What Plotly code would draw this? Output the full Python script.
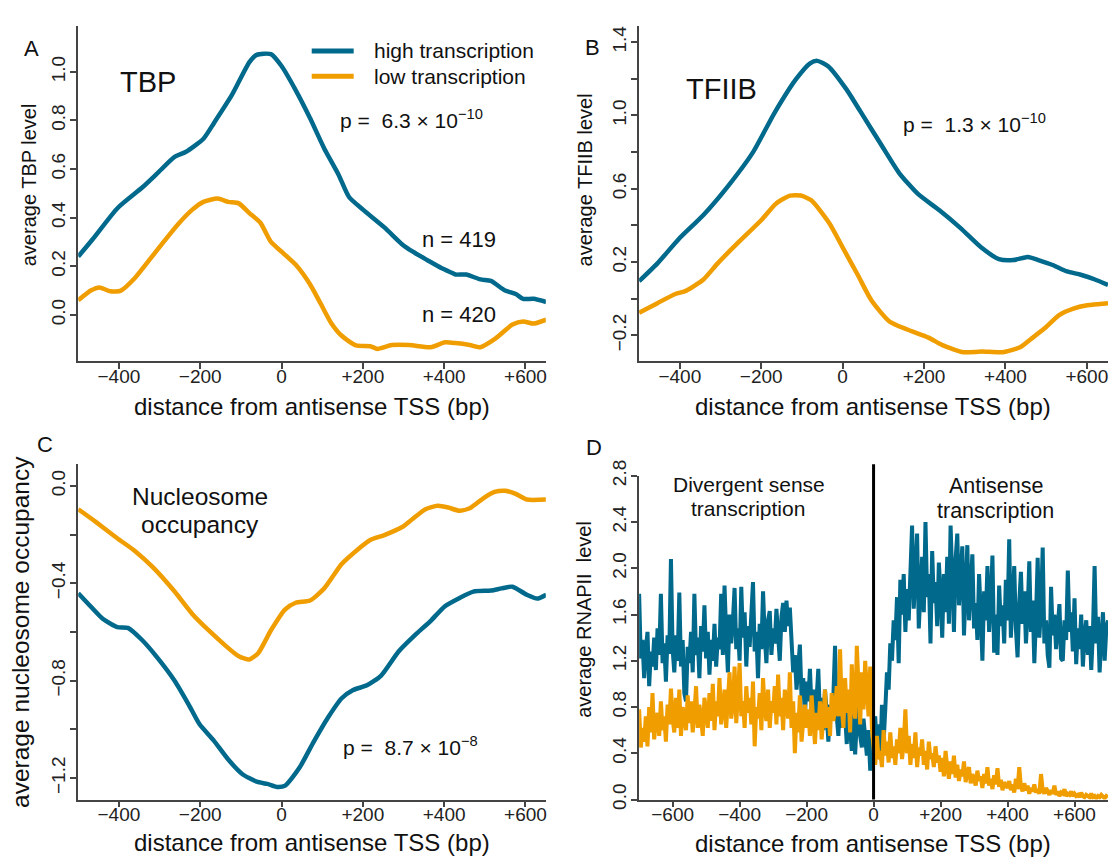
import plotly.graph_objects as go

# ---------------- data ----------------
# Panel A: TBP
a_high_x = [-500, -465, -403, -342, -307, -263, -236, -192, -166, -122, -79, -61, -26, 0, 35, 70, 105, 140, 166, 201, 253, 297, 323, 358, 393, 419, 428, 454, 489, 515, 550, 576, 594, 620, 651]
a_high_y = [0.24, 0.31, 0.44, 0.525, 0.58, 0.65, 0.67, 0.725, 0.79, 0.905, 1.04, 1.07, 1.073, 1.024, 0.924, 0.81, 0.685, 0.578, 0.485, 0.432, 0.36, 0.29, 0.26, 0.226, 0.193, 0.173, 0.166, 0.166, 0.146, 0.14, 0.10, 0.086, 0.066, 0.066, 0.053]
a_low_x = [-500, -469, -448, -421, -395, -360, -325, -290, -255, -220, -192, -157, -131, -105, -79, -52, -26, 0, 35, 70, 96, 122, 148, 183, 218, 236, 271, 314, 367, 402, 428, 463, 489, 524, 568, 594, 620, 651]
a_low_y = [0.06, 0.10, 0.113, 0.097, 0.10, 0.153, 0.226, 0.30, 0.372, 0.432, 0.465, 0.479, 0.465, 0.459, 0.419, 0.379, 0.30, 0.26, 0.206, 0.126, 0.047, -0.033, -0.086, -0.126, -0.129, -0.14, -0.124, -0.124, -0.133, -0.113, -0.116, -0.124, -0.133, -0.10, -0.04, -0.027, -0.036, -0.02]

# Panel B: TFIIB
b_high_x = [-500, -455, -403, -342, -281, -220, -168, -115, -80, -62, -35, 9, 44, 96, 139, 185, 237, 289, 340, 384, 419, 455, 481, 516, 551, 585, 620, 652]
b_high_y = [0.096, 0.193, 0.325, 0.457, 0.616, 0.80, 1.012, 1.197, 1.285, 1.298, 1.268, 1.144, 1.021, 0.836, 0.686, 0.572, 0.484, 0.387, 0.281, 0.216, 0.211, 0.228, 0.211, 0.184, 0.149, 0.131, 0.105, 0.075]
b_low_x = [-500, -455, -411, -385, -342, -307, -260, -199, -164, -129, -103, -77, -33, 2, 37, 71, 115, 159, 211, 245, 297, 341, 393, 436, 462, 497, 532, 567, 601, 652]
b_low_y = [-0.077, -0.024, 0.026, 0.043, 0.105, 0.193, 0.299, 0.431, 0.519, 0.563, 0.563, 0.537, 0.413, 0.272, 0.131, -0.01, -0.124, -0.168, -0.212, -0.253, -0.292, -0.288, -0.292, -0.265, -0.221, -0.16, -0.089, -0.054, -0.036, -0.024]

# Panel C: nucleosome occupancy
c_low_x = [-500, -456, -404, -360, -316, -263, -219, -175, -140, -105, -79, -57, -26, 9, 35, 70, 105, 148, 192, 218, 253, 297, 323, 354, 384, 410, 437, 463, 498, 524, 550, 576, 603, 651]
c_low_y = [-0.096, -0.149, -0.215, -0.268, -0.335, -0.434, -0.527, -0.60, -0.653, -0.70, -0.713, -0.686, -0.593, -0.507, -0.48, -0.471, -0.421, -0.321, -0.255, -0.222, -0.202, -0.169, -0.135, -0.096, -0.082, -0.089, -0.102, -0.092, -0.049, -0.025, -0.02, -0.033, -0.056, -0.056]
c_high_x = [-500, -474, -439, -404, -378, -343, -308, -263, -228, -202, -167, -131, -96, -61, -35, -9, 9, 44, 79, 114, 148, 175, 210, 245, 288, 332, 367, 402, 437, 472, 515, 541, 568, 603, 629, 651]
c_high_y = [-0.441, -0.487, -0.547, -0.58, -0.583, -0.633, -0.70, -0.80, -0.899, -0.978, -1.045, -1.124, -1.184, -1.215, -1.224, -1.237, -1.231, -1.158, -1.051, -0.952, -0.872, -0.839, -0.819, -0.779, -0.68, -0.607, -0.554, -0.494, -0.461, -0.434, -0.43, -0.421, -0.414, -0.447, -0.463, -0.447]

# Panel D: RNAPII, one value every 5 bp from -700 to +700
d_pos = list(range(-700, 701, 5))
d_high = [
    1.78, 1.22, 1.38, 1.05, 1.30, 1.45, 0.98, 1.28, 1.15, 1.40, 1.12, 1.48, 1.25, 1.78, 1.18, 1.35, 1.02, 1.42, 1.26, 2.08,
    1.30, 1.10, 1.42, 1.20, 1.79, 1.15, 1.38, 0.92, 0.85, 1.32, 1.18, 1.45, 1.10, 1.78, 1.25, 1.40, 1.05, 1.50, 1.28, 1.68,
    1.22, 1.45, 1.08, 1.38, 1.20, 1.52, 1.15, 1.40, 1.30, 1.78, 1.25, 1.85, 1.42, 1.10, 1.60, 1.35, 1.55, 1.83, 1.30, 1.48,
    1.20, 1.84, 1.40, 1.62, 1.15, 1.50, 1.32, 1.58, 1.88, 1.28, 1.45, 1.05, 1.52, 1.30, 1.80, 1.42, 1.18, 1.55, 1.63, 1.25,
    1.48, 1.35, 1.65, 1.42, 1.20, 1.58, 1.70, 1.45, 1.72, 1.50, 1.66, 1.38, 1.10, 1.25, 0.95, 1.15, 1.34, 0.88, 1.05, 0.72,
    1.02, 0.85, 1.13, 0.78, 0.95, 0.62, 0.90, 1.13, 0.70, 0.88, 0.60, 0.95, 0.75, 0.50, 0.82, 0.68, 0.90, 1.33, 0.72, 0.55,
    0.85, 0.62, 0.98, 0.70, 0.48, 0.80, 0.65, 0.42, 0.75, 0.39, 0.68, 0.82, 0.55, 0.45, 0.70, 0.52, 0.38, 0.60, 0.25, 0.48,
    0.55, 0.72, 0.40, 0.65, 0.35, 0.82, 0.50, 0.78, 1.10, 0.95, 1.35, 1.20, 1.55, 1.38, 1.75, 1.18, 1.90, 1.60, 1.95, 1.45,
    1.82, 1.55, 2.05, 2.37, 1.65, 1.90, 2.30, 1.48, 1.85, 2.10, 1.62, 2.40, 1.75, 1.95, 1.35, 2.15, 1.70, 1.88, 1.50, 2.05,
    1.78, 1.40, 1.95, 1.62, 2.10, 1.52, 2.37, 1.85, 1.45, 2.08, 2.30, 1.68, 1.92, 2.19, 1.42, 1.75, 2.20, 1.55, 1.88, 2.12,
    1.48, 1.70, 1.38, 1.95, 1.62, 1.20, 1.80, 1.55, 2.02, 1.45, 1.72, 2.11, 1.27, 1.60, 1.25, 1.85, 1.50, 1.68, 1.35, 1.90,
    1.55, 2.25, 1.40, 1.75, 2.02, 1.48, 1.23, 1.70, 1.97, 1.52, 1.80, 1.35, 1.62, 2.06, 1.45, 1.72, 1.18, 1.58, 2.09, 1.40,
    1.65, 2.18, 1.35, 1.55, 1.25, 1.14, 1.84, 1.42, 1.60, 1.30, 1.50, 1.69, 1.22, 1.20, 1.55, 1.38, 1.98, 1.45, 1.62, 1.28,
    1.74, 1.17, 1.48, 1.30, 1.60, 1.15, 1.42, 1.55, 1.25, 1.50, 1.12, 1.45, 2.02, 1.35, 1.58, 1.10, 1.40, 1.62, 1.20, 1.48,
    1.55,
]
d_low = [
    0.78, 0.45, 0.62, 0.50, 0.72, 0.46, 0.80, 0.58, 0.92, 0.52, 0.68, 0.75, 0.55, 0.85, 0.60, 0.72, 0.50, 0.82, 0.65, 0.96,
    0.70, 0.58, 0.88, 0.62, 0.95, 0.55, 0.80, 0.72, 0.60, 0.90, 0.66, 0.85, 0.58, 0.75, 0.98, 0.62, 0.82, 0.70, 0.55, 0.88,
    0.75, 0.62, 0.92, 0.68, 1.00, 0.60, 0.85, 0.72, 1.05, 0.65, 0.78, 0.95, 0.62, 0.88, 1.10, 0.70, 0.82, 1.15, 0.66, 0.90,
    1.18, 0.72, 0.85, 0.62, 0.98, 0.75, 0.88, 0.65, 1.02, 0.46, 0.80, 0.70, 0.92, 0.60, 1.05, 0.78, 0.68, 0.95, 0.62, 0.85,
    0.75, 0.98, 0.65, 1.08, 0.72, 0.88, 0.60, 0.95, 0.80, 0.70, 1.10, 0.62, 0.85, 0.40, 0.75, 0.58, 0.90, 0.50, 0.68, 0.82,
    0.62, 0.78, 0.55, 0.90, 0.68, 0.48, 0.75, 0.60, 0.85, 0.52, 0.70, 0.95, 0.62, 0.80, 0.55, 0.92, 0.68, 0.78, 0.98, 0.72,
    1.30, 0.80, 0.62, 1.05, 0.75, 0.95, 0.58, 1.17, 0.82, 0.70, 1.33, 0.88, 0.65, 1.10, 0.78, 1.20, 0.92, 0.72, 1.15, 0.62,
    0.45, 0.30, 0.55, 0.35, 0.42, 0.28, 0.60, 0.38, 0.50, 0.32, 0.58, 0.36, 0.46, 0.30, 0.52, 0.40, 0.62, 0.35, 0.48, 0.78,
    0.40, 0.55, 0.30, 0.48, 0.36, 0.58, 0.28, 0.45, 0.38, 0.52, 0.30, 0.42, 0.26, 0.50, 0.35, 0.40, 0.28, 0.46, 0.32, 0.38,
    0.24, 0.36, 0.20, 0.42, 0.28, 0.18, 0.33, 0.22, 0.38, 0.19, 0.30, 0.16, 0.26, 0.20, 0.33, 0.15, 0.24, 0.28, 0.14, 0.22,
    0.18, 0.12, 0.25, 0.16, 0.20, 0.10, 0.22, 0.14, 0.28, 0.12, 0.18, 0.09, 0.21, 0.13, 0.27, 0.11, 0.17, 0.08, 0.15, 0.12,
    0.10, 0.16, 0.08, 0.13, 0.06, 0.18, 0.09, 0.28, 0.11, 0.07, 0.14, 0.08, 0.12, 0.05, 0.10, 0.07, 0.13, 0.06, 0.09, 0.05,
    0.22, 0.08, 0.05, 0.10, 0.06, 0.04, 0.08, 0.05, 0.12, 0.04, 0.07, 0.03, 0.06, 0.05, 0.09, 0.03, 0.05, 0.04, 0.07, 0.03,
    0.05, 0.03, 0.04, 0.02, 0.06, 0.03, 0.02, 0.04, 0.03, 0.02, 0.05, 0.02, 0.03, 0.01, 0.03, 0.02, 0.04, 0.02, 0.01, 0.03,
    0.02,
]

# tick labels
x_ticks_abc = [-400, -200, 0, 200, 400, 600]
x_ticktext_abc = ["\u2212400", "\u2212200", "0", "+200", "+400", "+600"]
x_ticks_d = [-600, -400, -200, 0, 200, 400, 600]
x_ticktext_d = ["\u2212600", "\u2212400", "\u2212200", "0", "+200", "+400", "+600"]
a_yticks = [0.0, 0.2, 0.4, 0.6, 0.8, 1.0]
a_ytext = ["0.0", "0.2", "0.4", "0.6", "0.8", "1.0"]
b_yticks = [-0.2, 0.2, 0.6, 1.0, 1.4]
b_ytext = ["\u22120.2", "0.2", "0.6", "1.0", "1.4"]
b_yminor = [0.0, 0.4, 0.8, 1.2]
c_yticks = [-1.2, -0.8, -0.4, 0.0]
c_ytext = ["\u22121.2", "\u22120.8", "\u22120.4", "0.0"]
c_yminor = [-1.0, -0.6, -0.2]
d_yticks = [0.0, 0.4, 0.8, 1.2, 1.6, 2.0, 2.4, 2.8]
d_ytext = ["0.0", "0.4", "0.8", "1.2", "1.6", "2.0", "2.4", "2.8"]

# ---------------- styling ----------------
W, H = 1109, 868
BLUE = "#00698C"
ORANGE = "#F09D00"
FONT = "Liberation Sans, Arial, sans-serif"
AX = "#444444"

def px(x):
    return x / W

def py(y):
    return 1 - y / H

fig = go.Figure()

def line(x, y, color, xa, ya, width=4.5, shape="spline"):
    fig.add_trace(go.Scatter(x=x, y=y, mode="lines", xaxis=xa, yaxis=ya,
                             line=dict(color=color, width=width, shape=shape, smoothing=0.6),
                             showlegend=False, hoverinfo="skip"))

line(a_high_x, a_high_y, BLUE, "x", "y")
line(a_low_x, a_low_y, ORANGE, "x", "y")
line(b_high_x, b_high_y, BLUE, "x2", "y2")
line(b_low_x, b_low_y, ORANGE, "x2", "y2")
line(c_low_x, c_low_y, ORANGE, "x3", "y3")
line(c_high_x, c_high_y, BLUE, "x3", "y3")
line(d_pos, d_high, BLUE, "x4", "y4", width=4, shape="linear")
line(d_pos, d_low, ORANGE, "x4", "y4", width=4, shape="linear")

axis_common = dict(showline=True, linecolor=AX, linewidth=1.5, ticks="outside", ticklen=6,
                   tickwidth=1.5, tickcolor=AX, showgrid=False, zeroline=False,
                   tickfont=dict(family=FONT, size=19, color="#222222"))

def xax(**kw):
    d = dict(axis_common)
    d.update(ticklabelstandoff=-9)
    d.update(kw)
    return d

def yax(**kw):
    d = dict(axis_common)
    d.update(tickangle=-90, ticklabelstandoff=-2)
    d.update(kw)
    return d

def minor(vals):
    return dict(tickvals=vals, ticks="outside", ticklen=6, tickwidth=1.5, tickcolor=AX, showgrid=False)

dom_left = [px(78.3), px(546.3)]
dom_right = [px(639.7), 1.0]
dom_top = [py(355.7), py(10)]
dom_c = [py(807.7), py(462.3)]
dom_d = [py(807.7), py(474)]

fig.update_layout(
    width=W, height=H, autosize=False,
    margin=dict(l=0, r=0, t=0, b=0),
    paper_bgcolor="white", plot_bgcolor="white",
    showlegend=False,
    xaxis=xax(domain=dom_left, anchor="y", range=[-500, 650], tickvals=x_ticks_abc, ticktext=x_ticktext_abc),
    yaxis=yax(domain=dom_top, anchor="x", range=[-0.19, 1.19], tickvals=a_yticks, ticktext=a_ytext),
    xaxis2=xax(domain=dom_right, anchor="y2", range=[-500, 652], tickvals=x_ticks_abc, ticktext=x_ticktext_abc),
    yaxis2=yax(domain=dom_top, anchor="x2", range=[-0.34, 1.49], tickvals=b_yticks, ticktext=b_ytext,
               minor=minor(b_yminor)),
    xaxis3=xax(domain=dom_left, anchor="y3", range=[-500, 650], tickvals=x_ticks_abc, ticktext=x_ticktext_abc),
    yaxis3=yax(domain=dom_c, anchor="x3", range=[-1.288, 0.088], tickvals=c_yticks, ticktext=c_ytext,
               minor=minor(c_yminor)),
    xaxis4=xax(domain=dom_right, anchor="y4", range=[-700, 700], tickvals=x_ticks_d, ticktext=x_ticktext_d),
    yaxis4=yax(domain=dom_d, anchor="x4", range=[0, 2.8], tickvals=d_yticks, ticktext=d_ytext),
)

# vertical line at the antisense TSS in panel D
fig.add_shape(type="line", xref="x4", yref="paper", x0=0, x1=0, y0=py(807.7), y1=py(462),
              line=dict(color="black", width=3))

# manual legend
fig.add_shape(type="line", xref="paper", yref="paper", x0=px(312), x1=px(354), y0=py(36), y1=py(36),
              line=dict(color=BLUE, width=5))
fig.add_shape(type="line", xref="paper", yref="paper", x0=px(312), x1=px(354), y0=py(62), y1=py(62),
              line=dict(color=ORANGE, width=5))

def text(s, x, y, size, xanchor="center", angle=0):
    fig.add_annotation(text=s, x=px(x), y=py(y), xref="paper", yref="paper", showarrow=False,
                       xanchor=xanchor, yanchor="middle", textangle=angle,
                       font=dict(family=FONT, size=size, color="#111111"))

text("high transcription", 372, 36, 21, xanchor="left")
text("low transcription", 372, 62, 21, xanchor="left")

text("A", 32, 33, 22)
text("B", 593, 32, 22)
text("C", 45, 442, 22)
text("D", 595, 445, 22)

text("TBP", 148, 68, 29)
text("TFIIB", 722, 75, 29)
text("Nucleosome", 200, 495, 24.5)
text("occupancy", 200, 524, 24.5)
text("Divergent sense", 750, 483, 21)
text("transcription", 749, 508, 21)
text("Antisense", 997, 484, 21.5)
text("transcription", 996, 510, 21.5)

text("p =  6.3 \u00d7 10<sup>\u221210</sup>", 412, 106, 21)
text("p =  1.3 \u00d7 10<sup>\u221210</sup>", 975, 110, 21)
text("p =  8.7 \u00d7 10<sup>\u22128</sup>", 411, 753, 21)
text("n = 419", 459, 230, 22)
text("n = 420", 459, 308, 22)

text("average TBP level", 28.5, 174, 20, angle=-90)
text("average TFIIB level", 585, 169, 20, angle=-90)
text("average nucleosome occupancy", 21, 635, 24.5, angle=-90)
text("average RNAPII  level", 585, 622, 20, angle=-90)

text("distance from antisense TSS (bp)", 312, 403, 24)
text("distance from antisense TSS (bp)", 874, 403, 24)
text("distance from antisense TSS (bp)", 312, 852, 24)
text("distance from antisense TSS (bp)", 874, 853, 24)

fig.write_html("out.html")
